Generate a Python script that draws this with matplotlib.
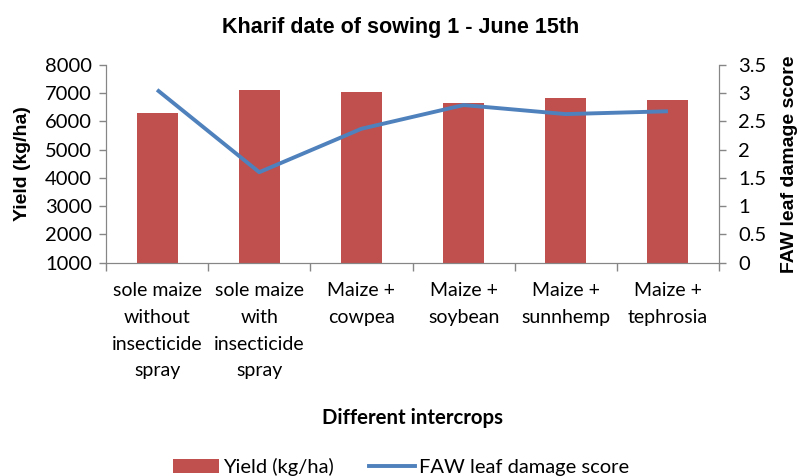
import matplotlib
matplotlib.use("Agg")
import matplotlib.pyplot as plt
from matplotlib.patches import Patch
from matplotlib.lines import Line2D
import numpy as np

categories = ["sole maize\nwithout\ninsecticide\nspray", "sole maize\nwith\ninsecticide\nspray",
              "Maize +\ncowpea", "Maize +\nsoybean", "Maize +\nsunnhemp", "Maize +\ntephrosia"]
yield_vals = [6290, 7120, 7030, 6650, 6820, 6750]
faw_score = [3.06, 1.60, 2.37, 2.79, 2.63, 2.68]
yield_ticks = [1000, 2000, 3000, 4000, 5000, 6000, 7000, 8000]
faw_ticks = [0, 0.5, 1, 1.5, 2, 2.5, 3, 3.5]
faw_tick_labels = ["0", "0.5", "1", "1.5", "2", "2.5", "3", "3.5"]

bar_color = "#C0504D"
line_color = "#4F81BD"
axis_color = "#868686"
tick_font = "Lato"

fig = plt.figure(figsize=(8.02, 4.76), dpi=100)
ax = fig.add_axes([106 / 802, 1 - 262.5 / 476, 613 / 802, 197.5 / 476])
ax.set_facecolor("none")
x = np.arange(len(categories))
ax.bar(x, yield_vals, width=0.4, color=bar_color, zorder=2)
ax.set_ylim(1000, 8000)
ax.set_yticks(yield_ticks)
ax.set_xlim(-0.5, len(categories) - 0.5)
ax.set_xticks(x)
ax.set_xticklabels(categories, fontfamily=tick_font, fontsize=14, linespacing=1.7)
ax.tick_params(axis="x", length=0, pad=14)
ax.set_xticks(np.arange(-0.5, len(categories), 1), minor=True)
ax.tick_params(axis="x", which="minor", length=5.5, width=1, color=axis_color, direction="out")
ax.tick_params(axis="y", length=5, width=1, color=axis_color, direction="out", labelsize=14.5, pad=5)
for lbl in ax.get_yticklabels():
    lbl.set_fontfamily(tick_font)
ax.spines["top"].set_visible(False)
for s in ["left", "bottom", "right"]:
    ax.spines[s].set_color(axis_color)
ax.set_ylabel("Yield (kg/ha)", fontfamily="Liberation Sans", fontweight="bold", fontsize=14)
ax.yaxis.set_label_coords(-(106 - 22) / 613, 0.5)
ax.yaxis.label.set_va("center")
ax.set_xlabel("Different intercrops", fontfamily="Lato", fontweight="bold", fontsize=14.7)
ax.xaxis.set_label_coords(0.5, -(418 - 262.5) / 197.5)
ax.xaxis.label.set_va("center")

ax2 = ax.twinx()
ax2.set_facecolor("none")
ax2.plot(x, faw_score, color=line_color, linewidth=2.8, zorder=3, solid_capstyle="butt",
         solid_joinstyle="round")
ax2.set_ylim(0, 3.5)
ax2.set_yticks(faw_ticks)
ax2.set_yticklabels(faw_tick_labels)
ax2.tick_params(axis="y", length=5, width=1, color=axis_color, direction="out", labelsize=14.5, pad=9)
for lbl in ax2.get_yticklabels():
    lbl.set_fontfamily(tick_font)
ax2.spines["top"].set_visible(False)
for s in ["left", "bottom", "right"]:
    ax2.spines[s].set_color(axis_color)
ax2.set_ylabel("FAW leaf damage score", fontfamily="Liberation Sans", fontweight="bold", fontsize=14)
ax2.yaxis.set_label_coords(1 + (790 - 719) / 613, 0.5)
ax2.yaxis.label.set_va("center")

fig.text(0.5, 1 - 28 / 476, "Kharif date of sowing 1 - June 15th", ha="center", va="center",
         fontfamily="Liberation Sans", fontweight="bold", fontsize=15.5)

handles = [Patch(facecolor=bar_color, label="Yield (kg/ha)"),
           Line2D([0], [0], color=line_color, linewidth=2.8, label="FAW leaf damage score")]
fig.legend(handles=handles, loc="center", bbox_to_anchor=(0.5, 1 - 467 / 476), ncol=2, frameon=False,
           prop={"family": "Lato", "size": 14.5}, handlelength=2.3, handleheight=0.7,
           columnspacing=1.75, handletextpad=0.2, borderpad=0, borderaxespad=0)

fig.savefig("out.png", dpi=100)
